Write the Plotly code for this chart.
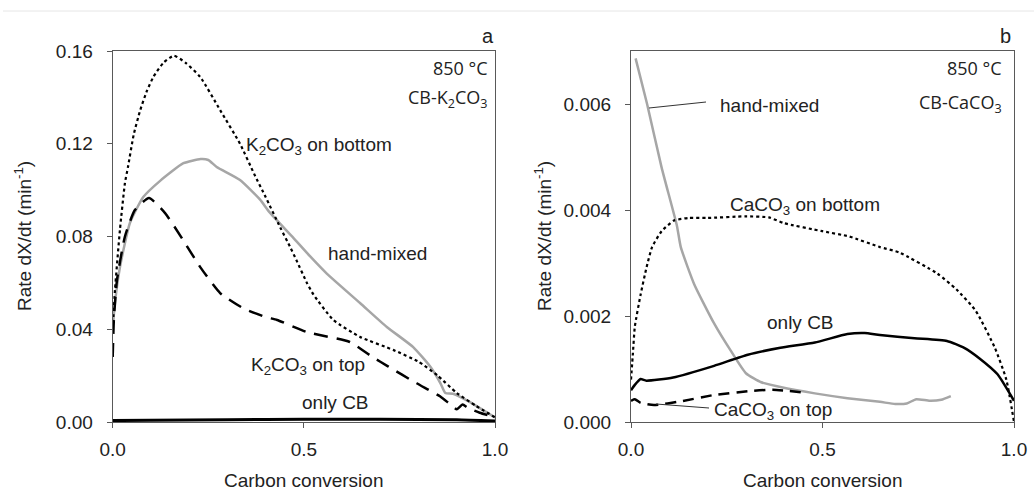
import plotly.graph_objects as go

# ---------------- Panel a: CB-K2CO3 ----------------
a_bottom_x = [0, 0.006, 0.019, 0.032, 0.04, 0.055, 0.072, 0.09, 0.107, 0.133, 0.16, 0.19, 0.229,
              0.281, 0.333, 0.37, 0.40, 0.438, 0.464, 0.48, 0.508, 0.525, 0.577, 0.647, 0.735, 0.80, 0.85, 0.9, 0.95, 1.0]
a_bottom_y = [0.04, 0.057, 0.083, 0.103, 0.11, 0.124, 0.1345, 0.143, 0.149, 0.155, 0.158, 0.155, 0.1488,
              0.1345, 0.120, 0.107, 0.097, 0.084, 0.0755, 0.070, 0.060, 0.055, 0.044, 0.0367, 0.031, 0.026, 0.020, 0.0125, 0.007, 0.002]

a_hand_x = [0, 0.005, 0.019, 0.045, 0.08, 0.124, 0.185, 0.23, 0.25, 0.272, 0.333, 0.385, 0.41,
            0.472, 0.516, 0.56, 0.647, 0.717, 0.786, 0.83, 0.857, 0.87, 0.89, 0.93, 0.97, 1.0]
a_hand_y = [0.04, 0.05, 0.0668, 0.0858, 0.097, 0.104, 0.1116, 0.1134, 0.1130, 0.110, 0.1044, 0.096, 0.0905,
            0.0795, 0.0715, 0.0640, 0.0513, 0.041, 0.0323, 0.024, 0.0168, 0.0125, 0.0122, 0.009, 0.005, 0.002]

a_top_x = [0, 0.003, 0.011, 0.032, 0.058, 0.095, 0.137, 0.184, 0.229, 0.281, 0.342, 0.40, 0.43, 0.508,
           0.62, 0.68, 0.72, 0.795, 0.857, 0.88, 0.9, 0.915, 0.93, 0.96, 1.0]
a_top_y = [0.028, 0.044, 0.061, 0.080, 0.0914, 0.0966, 0.0901, 0.0785, 0.0668, 0.0556, 0.049, 0.0453, 0.044, 0.0388,
           0.0345, 0.028, 0.024, 0.0167, 0.011, 0.008, 0.0055, 0.0075, 0.006, 0.004, 0.002]

a_cb_x = [0, 0.1, 0.3, 0.5, 0.7, 0.9, 1.0]
a_cb_y = [0.0006, 0.0008, 0.001, 0.0012, 0.0012, 0.001, 0.0004]

# ---------------- Panel b: CB-CaCO3 ----------------
b_hand_x = [0.012, 0.042, 0.08, 0.12, 0.13, 0.165, 0.217, 0.26, 0.30, 0.34, 0.39, 0.48, 0.565, 0.65,
            0.69, 0.72, 0.745, 0.78, 0.81, 0.835]
b_hand_y = [0.00686, 0.006, 0.0048, 0.0037, 0.0033, 0.0026, 0.00186, 0.00135, 0.00092, 0.00075, 0.00066,
            0.00054, 0.00045, 0.00038, 0.00034, 0.00035, 0.00043, 0.0004, 0.00042, 0.00049]

b_bottom_x = [0, 0.005, 0.01, 0.025, 0.04, 0.055, 0.08, 0.112, 0.15, 0.2, 0.3, 0.36, 0.4, 0.5, 0.57,
              0.65, 0.7, 0.8, 0.85, 0.9, 0.95, 0.98, 1.0]
b_bottom_y = [0.0008, 0.0013, 0.0018, 0.0024, 0.0029, 0.0033, 0.0036, 0.0038, 0.00385, 0.00385, 0.00388,
              0.00386, 0.00375, 0.0036, 0.0035, 0.0033, 0.0032, 0.0028, 0.0025, 0.0021, 0.0014, 0.0008, 0.0]

b_cb_x = [0, 0.01, 0.025, 0.04, 0.11, 0.217, 0.305, 0.39, 0.48, 0.565, 0.61, 0.65, 0.74, 0.825,
          0.87, 0.91, 0.957, 1.0]
b_cb_y = [0.0006, 0.0007, 0.00081, 0.00078, 0.00084, 0.00106, 0.00127, 0.0014, 0.0015, 0.00166, 0.00168,
          0.00164, 0.00158, 0.00153, 0.0014, 0.0012, 0.0009, 0.0004]

b_top_x = [0, 0.01, 0.025, 0.06, 0.13, 0.217, 0.305, 0.37, 0.46]
b_top_y = [0.0004, 0.00043, 0.00036, 0.00032, 0.00039, 0.00051, 0.00058, 0.00061, 0.00055]

x_ticks = [0, 0.5, 1.0]
a_yticks = [0, 0.04, 0.08, 0.12, 0.16]
b_yticks = [0, 0.002, 0.004, 0.006]

GRAY = "#a6a6a6"
AX = "#595959"
FONT = "Liberation Sans, Arial, sans-serif"
CAL = "Open Sans, Noto Sans, sans-serif"

fig = go.Figure()

def add(x, y, xa, ya, color, width, dash):
    fig.add_trace(go.Scatter(x=x, y=y, mode="lines", xaxis=xa, yaxis=ya,
                             line=dict(color=color, width=width, dash=dash, shape="spline", smoothing=0.5),
                             showlegend=False, hoverinfo="skip"))

add(a_cb_x, a_cb_y, "x", "y", "black", 3, "solid")
add(a_hand_x, a_hand_y, "x", "y", GRAY, 2.5, "solid")
add(a_bottom_x, a_bottom_y, "x", "y", "black", 2.2, "dot")
add(a_top_x, a_top_y, "x", "y", "black", 2.5, "14px,9px")

add(b_hand_x, b_hand_y, "x2", "y2", GRAY, 2.5, "solid")
add(b_bottom_x, b_bottom_y, "x2", "y2", "black", 2.2, "dot")
add(b_cb_x, b_cb_y, "x2", "y2", "black", 2.5, "solid")
add(b_top_x, b_top_y, "x2", "y2", "black", 2.5, "11px,7px")

W, H = 1034, 501
ax_common = dict(showline=True, mirror=True, linecolor=AX, linewidth=1.2, showgrid=False, zeroline=False,
                 automargin=False,
                 ticks="outside", ticklen=5, tickcolor=AX, tickfont=dict(family=FONT, size=19, color="#222"))

fig.update_layout(
    template="none",
    width=W, height=H, autosize=False, margin=dict(l=0, r=0, t=0, b=0, pad=0),
    paper_bgcolor="white", plot_bgcolor="white",
    xaxis=dict(domain=[112.7 / W, 495 / W], range=[0, 1], tickvals=x_ticks, tickformat=".1f",
               anchor="y", ticklabelstandoff=5, **ax_common),
    yaxis=dict(domain=[1 - 422 / H, 1 - 51 / H], range=[0, 0.16], tickvals=a_yticks, tickformat=".2f",
               anchor="x", ticklabelstandoff=10, **ax_common),
    xaxis2=dict(domain=[631 / W, 1014 / W], range=[0, 1], tickvals=x_ticks, tickformat=".1f",
                anchor="y2", ticklabelstandoff=5, **ax_common),
    yaxis2=dict(domain=[1 - 422 / H, 1 - 51 / H], range=[0, 0.007], tickvals=b_yticks, tickformat=".3f",
                anchor="x2", ticklabelstandoff=10, **ax_common),
)

def ann(text, px, py, xanchor="left", size=19, family=FONT, angle=0):
    fig.add_annotation(text=text, x=px / W, y=1 - py / H, xref="paper", yref="paper",
                       xanchor=xanchor, yanchor="middle", showarrow=False, textangle=angle,
                       font=dict(family=family, size=size, color="#222"))

# panel a texts
ann("a", 496, 36, "right", 20)
ann("850 °C", 490, 68, "right", 18, CAL)
ann("CB-K<sub>2</sub>CO<sub>3</sub>", 490, 98, "right", 18, CAL)
ann("K<sub>2</sub>CO<sub>3</sub> on bottom", 244, 146)
ann("hand-mixed", 326, 253)
ann("K<sub>2</sub>CO<sub>3</sub> on top", 249, 366)
ann("only CB", 300, 402)
ann("Carbon conversion", 303, 480, "center")
ann("Rate dX/dt (min<sup>-1</sup>)", 23, 236, "center", 19, FONT, -90)

# panel b texts
ann("b", 1013, 36, "right", 20)
ann("850 °C", 1004, 68, "right", 18, CAL)
ann("CB-CaCO<sub>3</sub>", 1004, 104, "right", 18, CAL)
ann("hand-mixed", 718, 105)
ann("CaCO<sub>3</sub> on bottom", 728, 206)
ann("only CB", 765, 322)
ann("CaCO<sub>3</sub> on top", 712, 411)
ann("Carbon conversion", 822, 480, "center")
ann("Rate dX/dt (min<sup>-1</sup>)", 543, 236, "center", 19, FONT, -90)

# leader lines in panel b
fig.add_shape(type="line", xref="paper", yref="paper", x0=649 / W, y0=1 - 108 / H, x1=706 / W, y1=1 - 102 / H,
              line=dict(color="#333", width=1))
fig.add_shape(type="line", xref="paper", yref="paper", x0=656 / W, y0=1 - 404 / H, x1=709 / W, y1=1 - 408 / H,
              line=dict(color="#333", width=1))
# faint top rule
fig.add_shape(type="line", xref="paper", yref="paper", x0=3 / W, y0=1 - 11 / H, x1=1, y1=1 - 11 / H,
              line=dict(color="#e6e6e6", width=1))

fig.write_html("out.html", config={"displayModeBar": False},
               post_script="document.body.style.margin='0';document.body.style.padding='0';"
                           "document.body.style.overflow='hidden';")
